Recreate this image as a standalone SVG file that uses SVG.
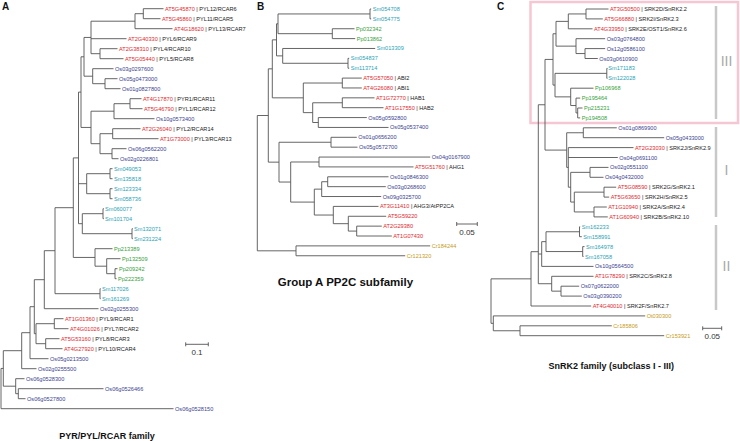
<svg xmlns="http://www.w3.org/2000/svg" width="740" height="441" viewBox="0 0 740 441">
<style>
text{font-family:"Liberation Sans",Arial,sans-serif}
.lb{font-size:5.6px}
.at{fill:#e0282e}.os{fill:#3b3f8f}.sm{fill:#2a9fb5}.pp{fill:#34a13a}.cr{fill:#c49a22}.g{fill:#222}
.br{fill:none;stroke:#555;stroke-width:0.9}
.pl{font-size:10px;font-weight:bold;fill:#111}
.ti{font-weight:bold;fill:#111;text-anchor:middle}
.sc{font-size:8px;fill:#333;text-anchor:middle}
.sb{fill:none;stroke:#555;stroke-width:0.9}
.bar{stroke:#c8c8c8;stroke-width:2.5}
.rn{font-size:14px;fill:#a8a8a8;text-anchor:middle}
</style>
<rect width="740" height="441" fill="#fff"/>
<text class="pl" x="2" y="10">A</text>
<text class="pl" x="257" y="10">B</text>
<text class="pl" x="497" y="10">C</text>
<rect x="530.5" y="2" width="207.5" height="121" fill="none" stroke="#f5c6d3" stroke-width="2.5"/>
<g id="connectors">
<path class="br" d="M143.3 8.7V18.7M143.3 8.7H163.5M143.3 18.7H160.5M135 13.7V28.7M135 13.7H143.3M135 28.7H172.5M100 48.7V58.7M100 48.7H117.5M100 58.7H123.5M91 21.2V53.7M91 21.2H135M91 38.7H126.5M91 53.7H100M105 78.7V88.7M105 78.7H117.5M105 88.7H120.5M92.7 68.7V83.7M92.7 68.7H113.5M92.7 83.7H105M84 37.45V76.2M84 37.45H91M84 76.2H92.7M130 98.7V108.7M130 98.7H141.5M130 108.7H142.5M114 103.7V118.7M114 103.7H130M114 118.7H154.5M112.7 128.7V138.7M112.7 128.7H140.5M112.7 138.7H158.5M112 148.7V158.7M112 148.7H126.5M112 158.7H118.5M100 133.7V153.7M100 133.7H112.7M100 153.7H112M91 111.2V143.7M91 111.2H114M91 143.7H100M81 56.8V127.45M81 56.8H84M81 127.45H91M110 168.7V178.7M110 168.7H112.5M110 178.7H112.5M110 188.7V198.7M110 188.7H112.5M110 198.7H112.5M86.7 173.7V193.7M86.7 173.7H110M86.7 193.7H110M103 208.7V218.7M103 208.7H103.8M103 218.7H103.8M132 228.7V238.7M132 228.7H132.8M132 238.7H132.8M82.3 213.7V233.7M82.3 213.7H103M82.3 233.7H132M78.5 92.1V223.7M78.5 92.1H81M78.5 183.7H86.7M78.5 223.7H82.3M115 268.7V278.7M115 268.7H117.5M115 278.7H116.5M106.7 258.7V273.7M106.7 258.7H120.5M106.7 273.7H115M95 248.7V266.2M95 248.7H112.5M95 266.2H106.7M73.3 157.9V257.45M73.3 157.9H78.5M73.3 257.45H95M100 288.7V298.7M100 288.7H100.6M100 298.7H100.6M55 207.7V293.7M55 207.7H73.3M55 293.7H100M44.3 250.7V308.7M44.3 250.7H55M44.3 308.7H98.5M54.3 318.7V328.7M54.3 318.7H63.5M54.3 328.7H68.5M45.7 338.7V348.7M45.7 338.7H59.5M45.7 348.7H62.5M36 323.7V343.7M36 323.7H54.3M36 343.7H45.7M34.3 279.7V333.7M34.3 279.7H44.3M34.3 333.7H36M30 306.7V358.7M30 306.7H34.3M30 358.7H48.5M21.7 332.7V368.7M21.7 332.7H30M21.7 368.7H36.5M18.3 388.7V398.7M18.3 388.7H103.5M18.3 398.7H25.5M15.7 378.7V393.7M15.7 378.7H24.5M15.7 393.7H18.3M3.3 350.7V386.2M3.3 350.7H21.7M3.3 386.2H15.7M1 368.45V408.7M1 368.45H3.3M1 408.7H173.5"/>
<path class="br" d="M370 9V18.87M370 9H371.2M370 18.87H371.2M332.3 28.74V38.61M332.3 28.74H354.5M332.3 38.61H355.2M278 13.94V33.68M278 13.94H370M278 33.68H332.3M348 58.35V68.22M348 58.35H349.2M348 68.22H349.2M282.7 48.48V63.29M282.7 48.48H375.2M282.7 63.29H348M276.5 23.81V55.88M276.5 23.81H278M276.5 55.88H282.7M342.3 78.09V87.96M342.3 78.09H361.8M342.3 87.96H361.8M342.3 97.83V107.7M342.3 97.83H374.5M342.3 107.7H383.5M318.3 117.57V127.44M318.3 117.57H366.8M318.3 127.44H388.5M312.7 102.77V122.5M312.7 102.77H342.3M312.7 122.5H318.3M303.3 83.03V112.64M303.3 83.03H342.3M303.3 112.64H312.7M272.3 39.85V97.83M272.3 39.85H276.5M272.3 97.83H303.3M331 137.31V147.18M331 137.31H356.8M331 147.18H357.5M319 157.05V166.92M319 157.05H430.2M319 166.92H413.5M327.7 176.79V186.66M327.7 176.79H388.5M327.7 186.66H385.8M321.7 181.73V196.53M321.7 181.73H327.7M321.7 196.53H381.2M356.7 226.14V236.01M356.7 226.14H381.8M356.7 236.01H391.8M348.3 216.27V231.08M348.3 216.27H386.2M348.3 231.08H356.7M333.3 206.4V223.68M333.3 206.4H378.5M333.3 223.68H348.3M314.3 189.13V215.04M314.3 189.13H321.7M314.3 215.04H333.3M290.7 161.99V202.09M290.7 161.99H319M290.7 202.09H314.3M279 142.25V182.04M279 142.25H331M279 182.04H290.7M268.3 68.84V162.15M268.3 68.84H272.3M268.3 162.15H279M296 245.88V255.75M296 245.88H430.2M296 255.75H405.2M257.3 115.5V250.82M257.3 115.5H268.3M257.3 250.82H296"/>
<path class="br" d="M586 9V18.9M586 9H608.5M586 18.9H602.8M568.3 13.95V28.8M568.3 13.95H586M568.3 28.8H592.5M585 48.6V58.5M585 48.6H605.2M585 58.5H597.8M576 38.7V53.55M576 38.7H605.2M576 53.55H585M556 21.38V46.13M556 21.38H568.3M556 46.13H576M606.8 68.4V78.3M606.8 68.4H607.5M606.8 78.3H607.5M577.7 108V117.9M577.7 108H582.5M577.7 117.9H580.2M576 98.1V112.95M576 98.1H580.2M576 112.95H577.7M570.7 88.2V105.53M570.7 88.2H593.5M570.7 105.53H576M555 73.35V96.86M555 73.35H606.8M555 96.86H570.7M553 33.75V85.1M553 33.75H556M553 85.1H555M583.3 127.8V137.7M583.3 127.8H616.8M583.3 137.7H664.2M590 167.4V177.3M590 167.4H608.5M590 177.3H603.5M604 187.2V197.1M604 187.2H616.2M604 197.1H609.2M594 207V216.9M594 207H606.8M594 216.9H607.8M574.3 192.15V211.95M574.3 192.15H604M574.3 211.95H594M570.7 172.35V202.05M570.7 172.35H590M570.7 202.05H574.3M568.3 147.6V187.2M568.3 147.6H633.5M568.3 157.5H617.8M568.3 187.2H570.7M566.7 132.75V167.4M566.7 132.75H583.3M566.7 167.4H568.3M545 59.43V150.08M545 59.43H553M545 150.08H566.7M579.5 226.8V236.7M579.5 226.8H580.2M579.5 236.7H581.8M582.7 246.6V256.5M582.7 246.6H584.5M582.7 256.5H583.5M546 231.75V251.55M546 231.75H579.5M546 251.55H582.7M541.7 241.65V266.4M541.7 241.65H546M541.7 266.4H593.5M561 286.2V296.1M561 286.2H579.2M561 296.1H581.8M551.7 276.3V291.15M551.7 276.3H593.5M551.7 291.15H561M538.3 104.75V283.73M538.3 104.75H545M538.3 254.03H541.7M538.3 283.73H551.7M531 251.7V306M531 251.7H538.3M531 306H591.2M520 325.8V335.7M520 325.8H611.8M520 335.7H664.2M493.3 315.9V330.75M493.3 315.9H645.2M493.3 330.75H520M491 278.85V323.33M491 278.85H531M491 323.33H493.3"/>
</g>
<g id="scalebars">
<path class="sb" d="M185.7 344.3H208.3M185.7 342.3V346.3M208.3 342.3V346.3"/>
<text class="sc" x="197" y="355">0.1</text>
<path class="sb" d="M456.7 224H477.3M456.7 222V226M477.3 222V226"/>
<text class="sc" x="467" y="235">0.05</text>
<path class="sb" d="M702.7 328.3H721.7M702.7 326.3V330.3M721.7 326.3V330.3"/>
<text class="sc" x="712.3" y="339">0.05</text>
</g>
<g id="subclass-bars">
<line class="bar" x1="716" y1="6" x2="716" y2="119"/>
<line class="bar" x1="716" y1="127" x2="716" y2="217"/>
<line class="bar" x1="716" y1="225" x2="716" y2="310"/>
<text class="rn" x="726.5" y="66">III</text>
<text class="rn" x="726.5" y="175">I</text>
<text class="rn" x="726.5" y="270.7">II</text>
</g>
<g id="panelA" class="lb">
<g id="a0"><text x="165" y="10.7"><tspan class="at">AT5G45870</tspan><tspan class="g"> | PYL12/RCAR6</tspan></text></g>
<g id="a1"><text x="162" y="20.7"><tspan class="at">AT5G45860</tspan><tspan class="g"> | PYL11/RCAR5</tspan></text></g>
<g id="a2"><text x="174" y="30.7"><tspan class="at">AT4G18620</tspan><tspan class="g"> | PYL13/RCAR7</tspan></text></g>
<g id="a3"><text x="128" y="40.7"><tspan class="at">AT2G40330</tspan><tspan class="g"> | PYL6/RCAR9</tspan></text></g>
<g id="a4"><text x="119" y="50.7"><tspan class="at">AT2G38310</tspan><tspan class="g"> | PYL4/RCAR10</tspan></text></g>
<g id="a5"><text x="125" y="60.7"><tspan class="at">AT5G05440</tspan><tspan class="g"> | PYL5/RCAR8</tspan></text></g>
<g id="a6"><text class="os" x="115" y="70.7">Os03g0297600</text></g>
<g id="a7"><text class="os" x="119" y="80.7">Os05g0473000</text></g>
<g id="a8"><text class="os" x="122" y="90.7">Os01g0827800</text></g>
<g id="a9"><text x="143" y="100.7"><tspan class="at">AT4G17870</tspan><tspan class="g"> | PYR1/RCAR11</tspan></text></g>
<g id="a10"><text x="144" y="110.7"><tspan class="at">AT5G46790</tspan><tspan class="g"> | PYL1/RCAR12</tspan></text></g>
<g id="a11"><text class="os" x="156" y="120.7">Os10g0573400</text></g>
<g id="a12"><text x="142" y="130.7"><tspan class="at">AT2G26040</tspan><tspan class="g"> | PYL2/RCAR14</tspan></text></g>
<g id="a13"><text x="160" y="140.7"><tspan class="at">AT1G73000</tspan><tspan class="g"> | PYL3/RCAR13</tspan></text></g>
<g id="a14"><text class="os" x="128" y="150.7">Os06g0562200</text></g>
<g id="a15"><text class="os" x="120" y="160.7">Os02g0226801</text></g>
<g id="a16"><text class="sm" x="114" y="170.7">Sm049053</text></g>
<g id="a17"><text class="sm" x="114" y="180.7">Sm135818</text></g>
<g id="a18"><text class="sm" x="114" y="190.7">Sm123334</text></g>
<g id="a19"><text class="sm" x="114" y="200.7">Sm058736</text></g>
<g id="a20"><text class="sm" x="105" y="210.7">Sm060077</text></g>
<g id="a21"><text class="sm" x="105" y="220.7">Sm101704</text></g>
<g id="a22"><text class="sm" x="134" y="230.7">Sm132071</text></g>
<g id="a23"><text class="sm" x="134" y="240.7">Sm231224</text></g>
<g id="a24"><text class="pp" x="114" y="250.7">Pp213389</text></g>
<g id="a25"><text class="pp" x="122" y="260.7">Pp132509</text></g>
<g id="a26"><text class="pp" x="119" y="270.7">Pp209242</text></g>
<g id="a27"><text class="pp" x="118" y="280.7">Pp222359</text></g>
<g id="a28"><text class="sm" x="102" y="290.7">Sm117026</text></g>
<g id="a29"><text class="sm" x="102" y="300.7">Sm161269</text></g>
<g id="a30"><text class="os" x="100" y="310.7">Os02g0255300</text></g>
<g id="a31"><text x="65" y="320.7"><tspan class="at">AT1G01360</tspan><tspan class="g"> | PYL9/RCAR1</tspan></text></g>
<g id="a32"><text x="70" y="330.7"><tspan class="at">AT4G01026</tspan><tspan class="g"> | PYL7/RCAR2</tspan></text></g>
<g id="a33"><text x="61" y="340.7"><tspan class="at">AT5G53160</tspan><tspan class="g"> | PYL8/RCAR3</tspan></text></g>
<g id="a34"><text x="64" y="350.7"><tspan class="at">AT4G27920</tspan><tspan class="g"> | PYL10/RCAR4</tspan></text></g>
<g id="a35"><text class="os" x="50" y="360.7">Os05g0213500</text></g>
<g id="a36"><text class="os" x="38" y="370.7">Os02g0255500</text></g>
<g id="a37"><text class="os" x="26" y="380.7">Os06g0528300</text></g>
<g id="a38"><text class="os" x="105" y="390.7">Os06g0526466</text></g>
<g id="a39"><text class="os" x="27" y="400.7">Os06g0527800</text></g>
<g id="a40"><text class="os" x="175" y="410.7">Os06g0528150</text></g>
</g>
<g id="panelB" class="lb">
<g id="b0"><text class="sm" x="372.7" y="11">Sm054708</text></g>
<g id="b1"><text class="sm" x="372.7" y="20.87">Sm054775</text></g>
<g id="b2"><text class="pp" x="356" y="30.74">Pp032342</text></g>
<g id="b3"><text class="pp" x="356.7" y="40.61">Pp013862</text></g>
<g id="b4"><text class="sm" x="376.7" y="50.48">Sm013309</text></g>
<g id="b5"><text class="sm" x="350.7" y="60.35">Sm054837</text></g>
<g id="b6"><text class="sm" x="350.7" y="70.22">Sm113714</text></g>
<g id="b7"><text x="363.3" y="80.09"><tspan class="at">AT5G57050</tspan><tspan class="g"> | ABI2</tspan></text></g>
<g id="b8"><text x="363.3" y="89.96"><tspan class="at">AT4G26080</tspan><tspan class="g"> | ABI1</tspan></text></g>
<g id="b9"><text x="376" y="99.83"><tspan class="at">AT1G72770</tspan><tspan class="g"> | HAB1</tspan></text></g>
<g id="b10"><text x="385" y="109.7"><tspan class="at">AT1G17550</tspan><tspan class="g"> | HAB2</tspan></text></g>
<g id="b11"><text class="os" x="368.3" y="119.57">Os05g0592800</text></g>
<g id="b12"><text class="os" x="390" y="129.44">Os05g0537400</text></g>
<g id="b13"><text class="os" x="358.3" y="139.31">Os01g0656200</text></g>
<g id="b14"><text class="os" x="359" y="149.18">Os05g0572700</text></g>
<g id="b15"><text class="os" x="431.7" y="159.05">Os04g0167900</text></g>
<g id="b16"><text x="415" y="168.92"><tspan class="at">AT5G51760</tspan><tspan class="g"> | AHG1</tspan></text></g>
<g id="b17"><text class="os" x="390" y="178.79">Os01g0846300</text></g>
<g id="b18"><text class="os" x="387.3" y="188.66">Os03g0268600</text></g>
<g id="b19"><text class="os" x="382.7" y="198.53">Os09g0325700</text></g>
<g id="b20"><text x="380" y="208.4"><tspan class="at">AT3G11410</tspan><tspan class="g"> | AHG3/AtPP2CA</tspan></text></g>
<g id="b21"><text class="at" x="387.7" y="218.27">AT5G59220</text></g>
<g id="b22"><text class="at" x="383.3" y="228.14">AT2G29380</text></g>
<g id="b23"><text class="at" x="393.3" y="238.01">AT1G07430</text></g>
<g id="b24"><text class="cr" x="431.7" y="247.88">Cr184244</text></g>
<g id="b25"><text class="cr" x="406.7" y="257.75">Cr121320</text></g>
</g>
<g id="panelC" class="lb">
<g id="c0"><text x="610" y="11"><tspan class="at">AT3G50500</tspan><tspan class="g"> | SRK2D/SnRK2.2</tspan></text></g>
<g id="c1"><text x="604.3" y="20.9"><tspan class="at">AT5G66880</tspan><tspan class="g"> | SRK2I/SnRK2.3</tspan></text></g>
<g id="c2"><text x="594" y="30.8"><tspan class="at">AT4G33950</tspan><tspan class="g"> | SRK2E/OST1/SnRK2.6</tspan></text></g>
<g id="c3"><text class="os" x="606.7" y="40.7">Os03g0764800</text></g>
<g id="c4"><text class="os" x="606.7" y="50.6">Os12g0586100</text></g>
<g id="c5"><text class="os" x="599.3" y="60.5">Os03g0610900</text></g>
<g id="c6"><text class="sm" x="608.3" y="70.4">Sm171183</text></g>
<g id="c7"><text class="sm" x="608.3" y="80.3">Sm122028</text></g>
<g id="c8"><text class="pp" x="595" y="90.2">Pp106968</text></g>
<g id="c9"><text class="pp" x="581.7" y="100.1">Pp195464</text></g>
<g id="c10"><text class="pp" x="584" y="110">Pp215231</text></g>
<g id="c11"><text class="pp" x="581.7" y="119.9">Pp194508</text></g>
<g id="c12"><text class="os" x="618.3" y="129.8">Os01g0869900</text></g>
<g id="c13"><text class="os" x="665.7" y="139.7">Os05g0433000</text></g>
<g id="c14"><text x="635" y="149.6"><tspan class="at">AT2G23030</tspan><tspan class="g"> | SRK2J/SnRK2.9</tspan></text></g>
<g id="c15"><text class="os" x="619.3" y="159.5">Os04g0691100</text></g>
<g id="c16"><text class="os" x="610" y="169.4">Os02g0551100</text></g>
<g id="c17"><text class="os" x="605" y="179.3">Os04g0432000</text></g>
<g id="c18"><text x="617.7" y="189.2"><tspan class="at">AT5G08590</tspan><tspan class="g"> | SRK2G/SnRK2.1</tspan></text></g>
<g id="c19"><text x="610.7" y="199.1"><tspan class="at">AT5G63650</tspan><tspan class="g"> | SRK2H/SnRK2.5</tspan></text></g>
<g id="c20"><text x="608.3" y="209"><tspan class="at">AT1G10940</tspan><tspan class="g"> | SRK2A/SnRK2.4</tspan></text></g>
<g id="c21"><text x="609.3" y="218.9"><tspan class="at">AT1G60940</tspan><tspan class="g"> | SRK2B/SnRK2.10</tspan></text></g>
<g id="c22"><text class="sm" x="581.7" y="228.8">Sm162233</text></g>
<g id="c23"><text class="sm" x="583.3" y="238.7">Sm158991</text></g>
<g id="c24"><text class="sm" x="586" y="248.6">Sm164978</text></g>
<g id="c25"><text class="sm" x="585" y="258.5">Sm167058</text></g>
<g id="c26"><text class="os" x="595" y="268.4">Os10g0564500</text></g>
<g id="c27"><text x="595" y="278.3"><tspan class="at">AT1G78290</tspan><tspan class="g"> | SRK2C/SnRK2.8</tspan></text></g>
<g id="c28"><text class="os" x="580.7" y="288.2">Os07g0622000</text></g>
<g id="c29"><text class="os" x="583.3" y="298.1">Os03g0390200</text></g>
<g id="c30"><text x="592.7" y="308"><tspan class="at">AT4G40010</tspan><tspan class="g"> | SRK2F/SnRK2.7</tspan></text></g>
<g id="c31"><text class="cr" x="646.7" y="317.9">Ot030300</text></g>
<g id="c32"><text class="cr" x="613.3" y="327.8">Cr185806</text></g>
<g id="c33"><text class="cr" x="665.7" y="337.7">Cr153921</text></g>
</g>
<g id="titles">
<text class="ti" x="107" y="439" font-size="9">PYR/PYL/RCAR family</text>
<text class="ti" x="345.5" y="285.8" font-size="11.5">Group A PP2C subfamily</text>
<text class="ti" x="611.2" y="368.6" font-size="9">SnRK2 family (subclass I - III)</text>
</g>
</svg>
